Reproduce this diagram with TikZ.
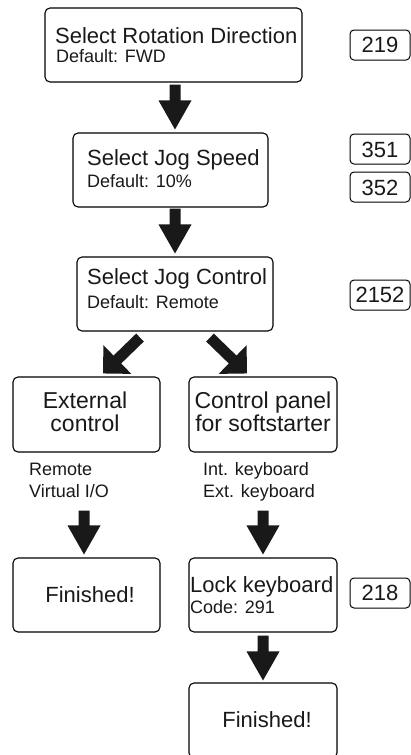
\documentclass[tikz,border=0pt]{standalone}
\usepackage{fontspec}
\setmainfont{Liberation Sans}
\usetikzlibrary{calc}
\newcommand{\fbig}{\fontsize{22}{26}\selectfont}
\newcommand{\fmid}{\fontsize{23}{27}\selectfont}
\newcommand{\fsmall}{\fontsize{18}{21}\selectfont}
\tikzset{
  box/.style={draw, line width=1.1pt, rounded corners=5pt, inner sep=0pt, minimum width=#1},
  box/.default=147pt,
  refbox/.style={draw, line width=1pt, rounded corners=4pt, inner sep=0pt, minimum width=60pt, minimum height=30pt},
  txt/.style={inner sep=0pt, text=black!90},
  headlen/.store in=\headlen, headlen=29pt,
  headhw/.store in=\headhw, headhw=16.5pt,
  fat/.style={fill=black!90, to path={
    ($(\tikztotarget)!\headlen!(\tikztostart)$) coordinate (fatS)
    ($(\tikztostart)!5.5pt!90:(\tikztotarget)$)
    -- ($(fatS)!5.5pt!-90:(\tikztostart)$)
    -- ($(fatS)!\headhw!-90:(\tikztostart)$)
    -- (\tikztotarget)
    -- ($(fatS)!\headhw!90:(\tikztostart)$)
    -- ($(fatS)!5.5pt!90:(\tikztostart)$)
    -- ($(\tikztostart)!5.5pt!-90:(\tikztotarget)$) -- cycle}},
  diag/.style={fat, headlen=20pt, headhw=20pt}
}
\begin{document}
\begin{tikzpicture}[x=1pt, y=-1pt]
\useasboundingbox (0,0) rectangle (411,755);
% main boxes
\node[box=257pt, minimum height=74pt] (b1) at (173.5,45) {};
\node[box=195pt, minimum height=74pt] (b2) at (170.5,170) {};
\node[box=196pt, minimum height=74pt] (b3) at (175,294) {};
\node[box=147pt, minimum height=75pt] (b4) at (86.5,414.5) {};
\node[box=148pt, minimum height=75pt] (b5) at (263,414.5) {};
\node[box=147pt, minimum height=74pt] (b6) at (86.5,595) {};
\node[box=148pt, minimum height=74pt] (b7) at (263,595) {};
\node[box=148pt, minimum height=75pt] (b8) at (263,720.5) {};
% texts
\node[txt, anchor=base west] (t1a) at (55,43) {\fbig Select Rotation Direction};
\node[txt, anchor=base west] (t1b) at (56,62) {\fsmall Default: FWD};
\node[txt, anchor=base west] (t2a) at (87,165) {\fbig Select Jog Speed};
\node[txt, anchor=base west] (t2b) at (87,187) {\fsmall Default: 10\%};
\node[txt, anchor=base west] (t3a) at (87,284) {\fbig Select Jog Control};
\node[txt, anchor=base west] (t3b) at (87,308) {\fsmall Default: Remote};
\node[txt, anchor=base] (t4a) at (85,408) {\fmid External};
\node[txt, anchor=base] (t4b) at (85,431) {\fmid control};
\node[txt, anchor=base] (t5a) at (263,408) {\fmid Control panel};
\node[txt, anchor=base] (t5b) at (263,431) {\fmid for softstarter};
\node[txt, anchor=base west] (l1a) at (29,475) {\fsmall Remote};
\node[txt, anchor=base west] (l1b) at (29,497) {\fsmall Virtual I/O};
\node[txt, anchor=base west] (l2a) at (203,475) {\fsmall Int. keyboard};
\node[txt, anchor=base west] (l2b) at (203,497) {\fsmall Ext. keyboard};
\node[txt, anchor=base] (t6) at (90,602) {\fbig Finished!};
\node[txt, anchor=base west] (t7a) at (190,592) {\fbig Lock keyboard};
\node[txt, anchor=base west] (t7b) at (190,613) {\fsmall Code: 291};
\node[txt, anchor=base] (t8) at (267,727) {\fbig Finished!};
% reference boxes
\node[refbox] (r219) at (380,45) {};
\node[txt, anchor=base] at (380,52) {\fbig 219};
\node[refbox] (r351) at (380,149) {};
\node[txt, anchor=base] at (380,157) {\fbig 351};
\node[refbox] (r352) at (380,187) {};
\node[txt, anchor=base] at (380,195) {\fbig 352};
\node[refbox] (r2152) at (380,295) {};
\node[txt, anchor=base] at (380,302) {\fbig 2152};
\node[refbox] (r218) at (380,593) {};
\node[txt, anchor=base] at (380,600) {\fbig 218};
% arrows
\path[fat] ($(b1.south)+(1.5,2)$) to ($(b2.north)+(4.5,-3)$);
\path[fat] ($(b2.south)+(4.5,1)$) to ($(b3.north)+(0,-3)$);
\path[diag] ($(b3.south)+(-35,6)$) to ($(b4.north)+(16.5,-3)$);
\path[diag] ($(b3.south)+(35,6)$) to ($(b5.north)+(-16,-3)$);
\path[fat] ($(b4.south)+(-2.5,58)$) to ($(b6.north)+(-2.5,-3)$);
\path[fat] ($(b5.south)+(0,58)$) to ($(b7.north)+(0,-3)$);
\path[fat] ($(b7.south)+(0,3)$) to ($(b8.north)+(0,-2)$);
\end{tikzpicture}
\end{document}
